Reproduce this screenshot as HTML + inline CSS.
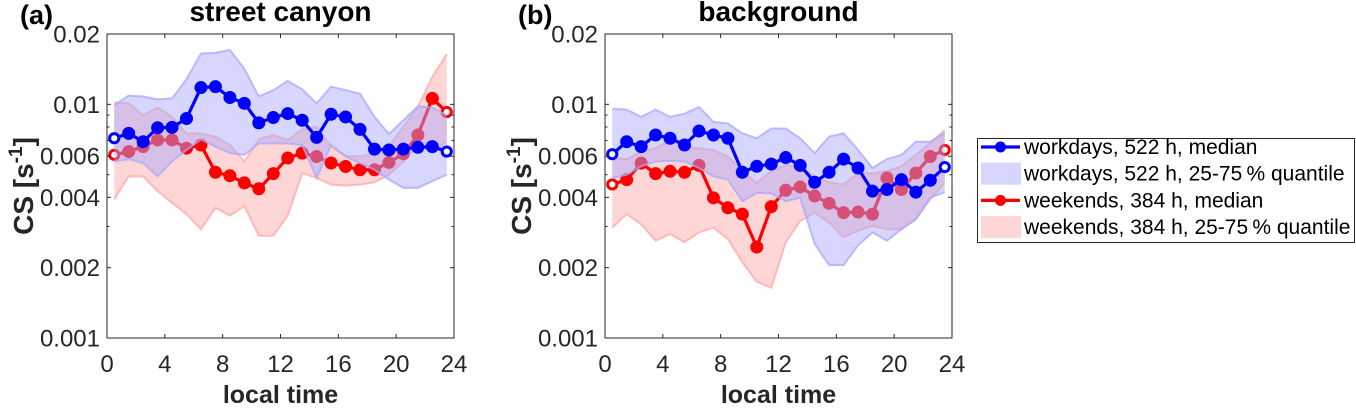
<!DOCTYPE html>
<html><head><meta charset="utf-8"><style>
body{margin:0;background:#fff;width:1356px;height:407px;overflow:hidden}
svg{font-family:"Liberation Sans",Arial,sans-serif}
</style></head><body>
<svg id="chart" width="1356" height="407"></svg>
<script>
const hours=[0.5,1.5,2.5,3.5,4.5,5.5,6.5,7.5,8.5,9.5,10.5,11.5,12.5,13.5,14.5,15.5,16.5,17.5,18.5,19.5,20.5,21.5,22.5,23.5];
// values in units of 1e-3 s^-1
const aWorkMed=[7.16,7.51,6.92,7.94,7.97,8.70,11.8,11.9,10.7,10.1,8.33,8.78,9.13,8.55,7.22,9.07,8.83,7.81,6.43,6.38,6.43,6.55,6.59,6.28];
const aWorkHi=[9.91,10.9,10.8,10.5,10.6,12.8,16.5,16.6,17.1,14.2,10.8,11.5,12.6,11.6,10.1,11.9,11.5,11.1,8.84,7.46,8.55,9.81,9.68,8.98];
const aWorkLo=[5.70,5.83,5.60,4.92,5.70,6.38,7.08,6.59,6.18,6.08,6.81,6.81,6.81,6.70,4.84,6.70,5.98,5.60,5.25,4.76,4.39,4.39,4.69,5.00];
const aWeekMed=[6.08,6.28,6.59,7.04,7.04,6.49,6.70,5.12,4.95,4.61,4.35,5.05,5.89,6.18,5.98,5.61,5.42,5.25,5.25,5.64,6.14,7.39,10.6,9.27];
const aWeekHi=[10.2,10.1,8.98,9.68,8.84,7.51,7.51,7.27,6.70,5.70,7.08,7.39,7.04,7.81,8.01,6.59,6.02,5.98,6.18,6.59,8.01,9.74,13.1,16.4];
const aWeekLo=[3.92,4.92,4.92,4.25,3.79,3.39,2.92,3.61,3.34,3.67,2.74,2.74,3.34,5.08,4.84,4.54,4.49,4.54,4.64,5.00,5.70,6.70,6.28,6.92];
const bWorkMed=[6.12,6.92,6.59,7.39,7.16,6.70,7.69,7.39,7.16,5.12,5.43,5.55,5.92,5.48,4.64,5.12,5.83,5.34,4.25,4.32,4.76,4.21,4.73,5.39];
const bWorkHi=[9.59,9.49,8.84,9.49,8.84,9.12,9.74,8.41,8.28,7.51,7.16,7.88,7.88,7.16,6.18,7.27,7.51,6.38,5.34,5.83,6.08,6.92,6.92,7.56];
const bWorkLo=[4.84,5.00,5.43,5.70,5.73,5.70,5.34,4.92,4.76,3.85,4.18,4.16,3.85,3.98,2.53,2.05,2.05,2.49,2.83,2.61,2.92,3.22,3.98,4.21];
const bWeekMed=[4.54,4.76,5.60,5.05,5.17,5.12,5.48,3.98,3.61,3.39,2.45,3.65,4.29,4.43,4.05,3.77,3.44,3.46,3.39,4.84,4.32,5.08,5.98,6.38];
const bWeekHi=[5.89,5.83,6.28,6.49,7.04,6.59,6.49,6.38,5.98,5.17,4.61,5.17,5.51,5.34,4.92,4.64,4.54,5.08,5.08,5.17,5.43,6.08,6.81,7.76];
const bWeekLo=[2.97,3.39,3.07,2.61,2.79,2.57,2.83,2.97,2.65,2.11,1.74,1.64,2.57,3.17,3.44,3.12,2.70,2.88,3.02,2.92,2.92,3.22,3.94,4.61];
const xTicks=[0,4,8,12,16,20,24];
const yTicks=[1,2,4,6,10,20];
const yTickLabels=["0.001","0.002","0.004","0.006","0.01","0.02"];
const yMinor=[3,5,7,8,9];

const NS="http://www.w3.org/2000/svg";
const svg=document.getElementById('chart');
function mk(tag,attrs,parent){const e=document.createElementNS(NS,tag);for(const k in attrs)e.setAttribute(k,attrs[k]);(parent||svg).appendChild(e);return e;}
const TOP=34,BOT=338;
function yS(v){return BOT-(BOT-TOP)*Math.log10(v/1)/Math.log10(20);}
const BLUEBAND='rgb(168,168,252)', REDBAND='rgb(255,168,168)';

function panel(left,right,label,title,wMed,wHi,wLo,eMed,eHi,eLo,id){
  const g=mk('g',{});
  
  
  const xS=h=>left+(right-left)*h/24;
  function band(hi,lo,fill,name){
    let d='M'+hours.map((h,i)=>xS(h)+','+yS(hi[i])).join('L')+'L'+hours.slice().reverse().map((h,j)=>xS(h)+','+yS(lo[23-j])).join('L')+'Z';
    const p=mk('path',{d:d,fill:fill,'fill-opacity':0.47,stroke:'none'},g);
    
    
    [hi,lo].forEach(arr=>{
      const l=mk('polyline',{points:hours.map((h,i)=>xS(h)+','+yS(arr[i])).join(' '),fill:'none',stroke:fill,'stroke-opacity':0.75,'stroke-width':2},g);
      
      
    });
  }
  function med(arr,color,name){
    const l=mk('polyline',{points:hours.map((h,i)=>xS(h)+','+yS(arr[i])).join(' '),fill:'none',stroke:color,'stroke-width':3.2},g);
    
    
    hours.forEach((h,i)=>{
      const open=(i==0||i==23);
      const c=mk('circle',{cx:xS(h),cy:yS(arr[i]),r:open?4.6:6,fill:open?'#fff':color,stroke:color,'stroke-width':open?3:1},g);
      
      
    });
  }
  band(eHi,eLo,REDBAND,'weekends-quantile-band');
  med(eMed,'#ff0000','weekends-median');
  band(wHi,wLo,BLUEBAND,'workdays-quantile-band');
  med(wMed,'#0000ff','workdays-median');
  const box=mk('rect',{x:left,y:TOP,width:right-left,height:BOT-TOP,fill:'none',stroke:'#262626','stroke-width':1},g);
  
  
  xTicks.forEach(t=>{
    const x=xS(t);
    mk('line',{x1:x,x2:x,y1:BOT,y2:BOT-4,stroke:'#262626'},g);
    mk('line',{x1:x,x2:x,y1:TOP,y2:TOP+4,stroke:'#262626'},g);
    const tx=mk('text',{x:x,y:BOT+34,'text-anchor':'middle','font-size':24,fill:'#262626'},g);
    tx.textContent=t;
    
    
  });
  yTicks.forEach((t,i)=>{
    const y=yS(t);
    mk('line',{x1:left,x2:left+4,y1:y,y2:y,stroke:'#262626'},g);
    mk('line',{x1:right,x2:right-4,y1:y,y2:y,stroke:'#262626'},g);
    const tx=mk('text',{x:left-7,y:y+8.5,'text-anchor':'end','font-size':24,fill:'#262626'},g);
    tx.textContent=yTickLabels[i];
    
    
  });
  yMinor.forEach(t=>{
    const y=yS(t);
    mk('line',{x1:left,x2:left+2.5,y1:y,y2:y,stroke:'#262626'},g);
    mk('line',{x1:right,x2:right-2.5,y1:y,y2:y,stroke:'#262626'},g);
  });
  const xl=mk('text',{x:(left+right)/2,y:403,'text-anchor':'middle','font-size':25,'font-weight':'bold',fill:'#262626'},g);
  xl.textContent='local time';
  
  
  const yl=mk('text',{transform:'translate('+(left-74)+',186) rotate(-90)','text-anchor':'middle','font-size':28,'font-weight':'bold',fill:'#262626'},g);
  yl.innerHTML='CS [s<tspan font-size="19" dy="-11">-1</tspan><tspan dy="11">]</tspan>';
  
  
  const ti=mk('text',{x:(left+right)/2,y:21,'text-anchor':'middle','font-size':28,'font-weight':'bold',fill:'#000'},g);
  ti.textContent=title;
  
  
  const pl=mk('text',{x:left-87,y:24,'font-size':27,'font-weight':'bold',fill:'#000'},g);
  pl.textContent=label;
  
  
}
panel(107,454,'(a)','street canyon',aWorkMed,aWorkHi,aWorkLo,aWeekMed,aWeekHi,aWeekLo,'a');
panel(605,952,'(b)','background',bWorkMed,bWorkHi,bWorkLo,bWeekMed,bWeekHi,bWeekLo,'b');

const lg=mk('g',{});


const lb=mk('rect',{x:977.5,y:138.5,width:377,height:104,fill:'#fff',stroke:'#262626'},lg);


const entries=[['line','#0000ff','workdays, 522 h, median'],['patch',BLUEBAND,'workdays, 522 h, 25-75\u2009% quantile'],['line','#ff0000','weekends, 384 h, median'],['patch',REDBAND,'weekends, 384 h, 25-75\u2009% quantile']];
entries.forEach((e,i)=>{
  const y=147+i*26.7;
  const eg=mk('g',{},lg);
  
  
  if(e[0]=='line'){
    mk('line',{x1:981,x2:1020,y1:y,y2:y,stroke:e[1],'stroke-width':3.2},eg);
    mk('circle',{cx:1000.5,cy:y,r:5.5,fill:e[1]},eg);
  } else {
    mk('rect',{x:981,y:y-11,width:40,height:22,fill:e[1],'fill-opacity':0.47},eg);
  }
  const t=mk('text',{x:1024,y:y+7,'font-size':21,fill:'#000'},eg);
  t.textContent=e[2];
});
</script>
</body></html>
